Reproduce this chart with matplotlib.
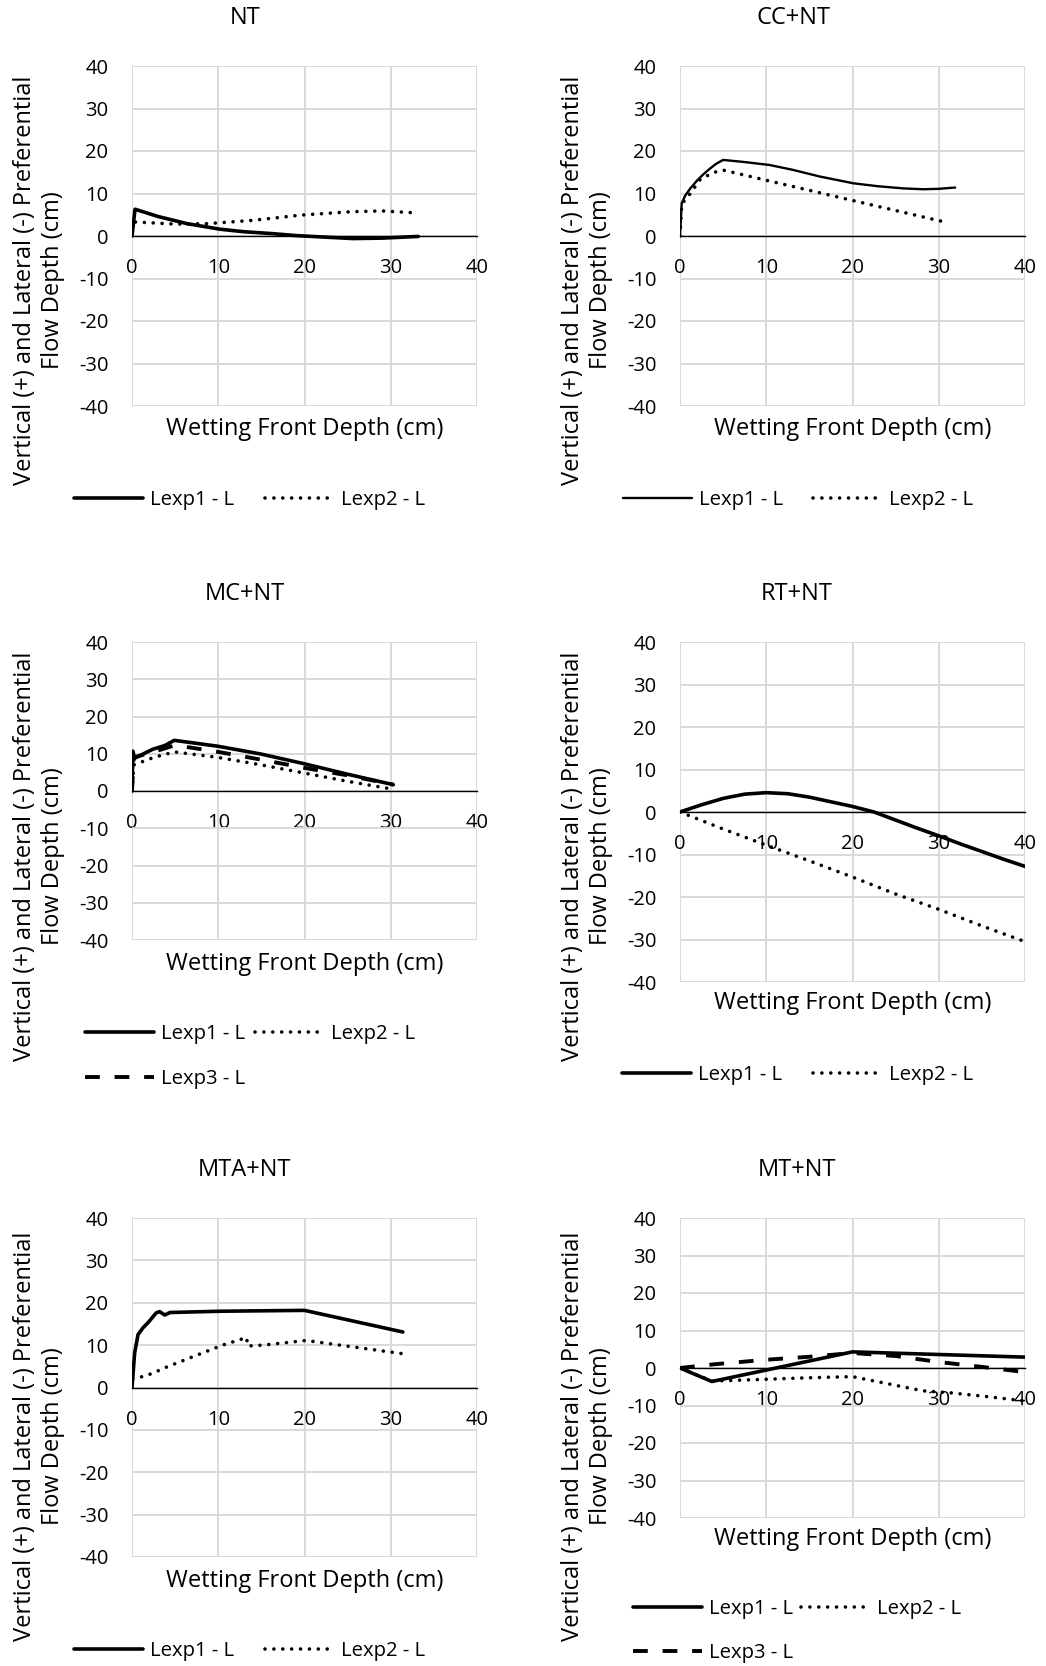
import matplotlib
matplotlib.use("Agg")
import matplotlib.pyplot as plt
from matplotlib.lines import Line2D

plt.rcParams['font.family'] = ['Open Sans', 'DejaVu Sans']
plt.rcParams['text.color'] = 'black'

W, H = 1046, 1666
DPI = 100

# ---------------- data ----------------
titles = ["NT", "CC+NT", "MC+NT", "RT+NT", "MTA+NT", "MT+NT"]
x_ticks = [0, 10, 20, 30, 40]
y_ticks = [-40, -30, -20, -10, 0, 10, 20, 30, 40]
series_labels = ["Lexp1 - L", "Lexp2 - L", "Lexp3 - L"]

nt_l1_x = [0, 0.35, 3, 6.4, 10.2, 13, 16, 19, 21.8, 25.6, 29, 33.2]
nt_l1_y = [0, 6.3, 4.6, 2.9, 1.6, 1.0, 0.6, 0.1, -0.2, -0.6, -0.5, -0.1]
nt_l2_x = [0.4, 5, 8.7, 14.1, 19.5, 25.3, 29, 32.4]
nt_l2_y = [3.3, 2.8, 2.9, 3.7, 4.9, 5.7, 5.9, 5.5]

cc_l1_x = [0, 0.2, 0.6, 1.2, 2.0, 2.7, 3.5, 4.2, 5.0, 7.5, 10.4, 13, 16.2, 20.1, 23, 25.9, 28.2, 30, 31.9]
cc_l1_y = [0, 7.7, 9.5, 11.2, 13.1, 14.5, 15.9, 17.0, 17.9, 17.4, 16.7, 15.6, 14.0, 12.4, 11.7, 11.2, 11.0, 11.1, 11.4]
cc_l2_x = [0, 0.2, 1.2, 2.3, 3.8, 5.0, 17.4, 31.1]
cc_l2_y = [0, 7.5, 10.0, 13.2, 14.9, 15.5, 9.6, 3.1]

mc_l1_x = [0, 0.1, 0.3, 2.4, 3.8, 4.9, 10, 15, 20, 25, 30.3]
mc_l1_y = [0, 10.7, 8.8, 11.2, 12.2, 13.6, 12.0, 9.9, 7.3, 4.5, 1.7]
mc_l2_x = [0, 0.2, 2.5, 4.9, 10, 15, 20, 25, 29.7]
mc_l2_y = [0, 7.0, 9.0, 10.5, 9.0, 7.0, 4.8, 2.6, 0.7]
mc_l3_x = [0, 0.2, 2.5, 5, 10, 15, 20, 25, 30.3]
mc_l3_y = [0, 9.0, 10.5, 12.3, 10.5, 8.4, 6.2, 4.2, 1.7]

rt_l1_x = [0, 2.5, 5, 7.5, 10, 12.5, 15, 17.5, 20, 22.5, 25, 27.5, 30, 32.5, 35, 37.5, 40]
rt_l1_y = [0, 1.7, 3.2, 4.2, 4.55, 4.3, 3.5, 2.4, 1.3, 0, -1.9, -3.8, -5.6, -7.5, -9.3, -11.1, -12.8]
rt_l2_x = [0, 5, 10, 15, 20, 25, 30, 35, 40]
rt_l2_y = [0, -4.0, -7.8, -11.5, -15.3, -19.3, -22.9, -26.8, -30.5]

mta_l1_x = [0, 0.31, 0.7, 1.28, 1.86, 2.8, 3.2, 3.8, 4.4, 10.3, 20, 31.4]
mta_l1_y = [0, 8.2, 12.5, 14.1, 15.3, 17.6, 17.9, 17.1, 17.7, 18.0, 18.2, 13.1]
mta_l2_x = [0.1, 1.3, 2.3, 3.2, 4.1, 10.5, 13.3, 13.4, 15.2, 20.2, 24.1, 31.3]
mta_l2_y = [2.1, 2.6, 3.3, 4.1, 4.9, 10.0, 11.8, 9.8, 10.0, 11.1, 10.0, 8.0]

mt_l1_x = [0, 3.7, 20, 40]
mt_l1_y = [0, -3.6, 4.3, 2.9]
mt_l2_x = [0, 3.7, 10, 15, 20, 24.3, 28.2, 31.3, 35.9, 40]
mt_l2_y = [0, -3.5, -3.0, -2.6, -2.3, -4.3, -6.1, -6.6, -7.7, -8.8]
mt_l3_x = [0, 4, 10, 15, 20, 25, 30, 35, 40]
mt_l3_y = [0, 1.0, 2.2, 3.0, 4.0, 3.2, 1.6, 0.3, -1.1]

# ---------------- styles ----------------
SOLID = dict(color='black', lw=2.6, linestyle='-', solid_capstyle='round', solid_joinstyle='round')
SOLID_THIN = dict(color='black', lw=1.7, linestyle='-', solid_capstyle='round', solid_joinstyle='round')
DOT = dict(color='black', lw=2.6, linestyle=(0, (0.01, 2.45)), dash_capstyle='round')
DASH = dict(color='black', lw=2.8, linestyle=(0, (3.8, 3.8)), dash_capstyle='butt')

panels = [
    dict(title=titles[0], box=(132, 66, 477, 406), tc=(245, 18), yl=(39, 280), xl=429,
         series=[(nt_l1_x, nt_l1_y, SOLID, 0), (nt_l2_x, nt_l2_y, DOT, 1)],
         leg=[(74, 500), (265, 500)]),
    dict(title=titles[1], box=(680, 66, 1025, 406), tc=(794, 18), yl=(587, 280), xl=429,
         series=[(cc_l1_x, cc_l1_y, SOLID_THIN, 0), (cc_l2_x, cc_l2_y, DOT, 1)],
         leg=[(623, 500), (813, 500)]),
    dict(title=titles[2], box=(132, 642, 477, 940), tc=(245, 594), yl=(39, 856), xl=964,
         series=[(mc_l1_x, mc_l1_y, SOLID, 0), (mc_l2_x, mc_l2_y, DOT, 1), (mc_l3_x, mc_l3_y, DASH, 2)],
         leg=[(85, 1034), (255, 1034), (85, 1079)]),
    dict(title=titles[3], box=(680, 642, 1025, 982), tc=(797, 594), yl=(587, 856), xl=1003,
         series=[(rt_l1_x, rt_l1_y, SOLID, 0), (rt_l2_x, rt_l2_y, DOT, 1)],
         leg=[(622, 1075), (813, 1075)]),
    dict(title=titles[4], box=(132, 1218, 477, 1557), tc=(245, 1170), yl=(39, 1436), xl=1581,
         series=[(mta_l1_x, mta_l1_y, SOLID, 0), (mta_l2_x, mta_l2_y, DOT, 1)],
         leg=[(74, 1651), (265, 1651)]),
    dict(title=titles[5], box=(680, 1218, 1025, 1518), tc=(797, 1170), yl=(587, 1436), xl=1539,
         series=[(mt_l1_x, mt_l1_y, SOLID, 0), (mt_l2_x, mt_l2_y, DOT, 1), (mt_l3_x, mt_l3_y, DASH, 2)],
         leg=[(633, 1609), (801, 1609), (633, 1653)]),
]

GRID = '#d9d9d9'
TICK_FS = 14.5
LABEL_FS = 17
LEG_FS = 14.6
YLABEL = "Vertical (+) and Lateral (-) Preferential\nFlow Depth (cm)"

fig = plt.figure(figsize=(W / DPI, H / DPI), dpi=DPI)

for p in panels:
    l, t, r, b = p['box']
    ax = fig.add_axes([l / W, 1 - b / H, (r - l) / W, (b - t) / H])
    for s in ['left', 'right', 'top']:
        ax.spines[s].set_visible(False)
    ax.spines['bottom'].set_position(('data', 0))
    ax.spines['bottom'].set_color('black')
    ax.spines['bottom'].set_linewidth(1.0)
    ax.spines['bottom'].set_zorder(2.5)
    ax.set_xlim(0, 40)
    ax.set_ylim(-40, 40)
    ax.set_xticks(x_ticks)
    ax.set_yticks(y_ticks)
    ax.set_xticklabels([str(v) for v in x_ticks])
    ax.set_yticklabels([str(v) for v in y_ticks])
    ax.tick_params(axis='both', labelsize=TICK_FS, length=0, labelcolor='black')
    ax.tick_params(axis='x', pad=16)
    ax.tick_params(axis='y', pad=17)
    ax.grid(True, color=GRID, lw=1.4, zorder=0)
    ax.set_axisbelow(True)
    handles = []
    for xs, ys, st, k in p['series']:
        ln, = ax.plot(xs, ys, zorder=3, clip_on=True, **st)
        handles.append((series_labels[k], st))
    fig.text(p['tc'][0] / W, 1 - p['tc'][1] / H, p['title'], ha='center', va='center', fontsize=LABEL_FS)
    fig.text(((l + r) / 2) / W, 1 - p['xl'] / H, "Wetting Front Depth (cm)", ha='center', va='center',
             fontsize=LABEL_FS)
    fig.text(p['yl'][0] / W, 1 - p['yl'][1] / H, YLABEL, ha='center', va='center', rotation=90,
             fontsize=LABEL_FS, multialignment='center', linespacing=1.2)
    fpx = LEG_FS * DPI / 72
    for (hx, hy), (lab, st) in zip(p['leg'], handles):
        h = Line2D([], [], **st)
        fig.legend([h], [lab], loc='center left', bbox_to_anchor=(hx / W, 1 - hy / H),
                   frameon=False, fontsize=LEG_FS, borderpad=0, borderaxespad=0,
                   handlelength=69 / fpx, handletextpad=7 / fpx)

fig.savefig("out.png", dpi=DPI)
